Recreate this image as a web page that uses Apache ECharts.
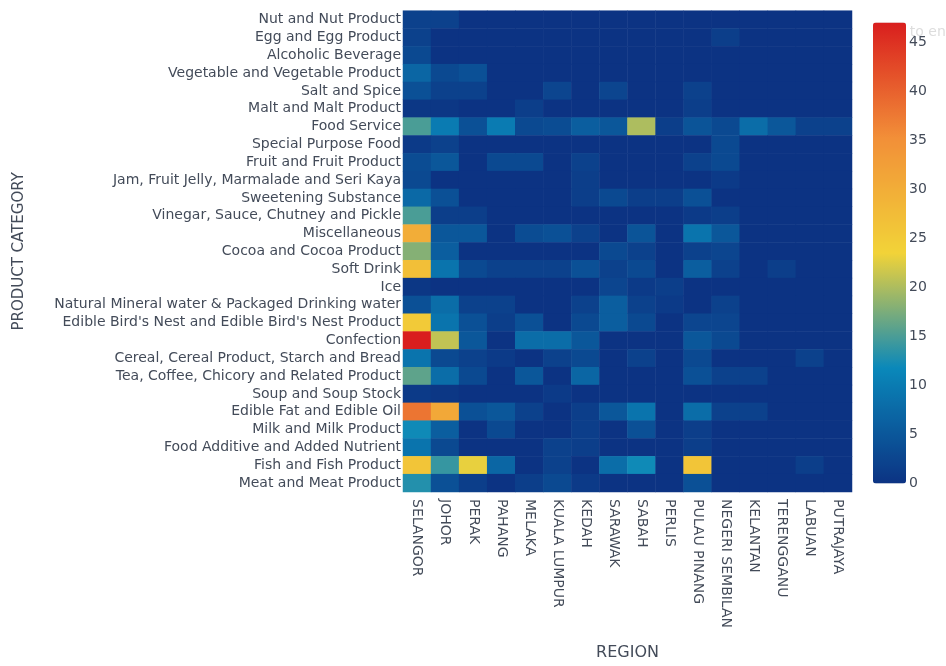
<!DOCTYPE html>
<html>
<head>
<meta charset="utf-8">
<script src="https://cdn.jsdelivr.net/npm/echarts@6/dist/echarts.min.js"></script>
<style>
  html, body { margin: 0; padding: 0; background: #fff; }
  #chart { width: 946px; height: 666px; }
</style>
</head>
<body>
<div id="chart"></div>
<script>
// Regions along the x axis
const regions = ['SELANGOR', 'JOHOR', 'PERAK', 'PAHANG', 'MELAKA', 'KUALA LUMPUR', 'KEDAH',
  'SARAWAK', 'SABAH', 'PERLIS', 'PULAU PINANG', 'NEGERI SEMBILAN', 'KELANTAN',
  'TERENGGANU', 'LABUAN', 'PUTRAJAYA'];

// Product categories, top to bottom
const categories = ['Nut and Nut Product', 'Egg and Egg Product', 'Alcoholic Beverage',
  'Vegetable and Vegetable Product', 'Salt and Spice', 'Malt and Malt Product', 'Food Service',
  'Special Purpose Food', 'Fruit and Fruit Product', 'Jam, Fruit Jelly, Marmalade and Seri Kaya',
  'Sweetening Substance', 'Vinegar, Sauce, Chutney and Pickle', 'Miscellaneous',
  'Cocoa and Cocoa Product', 'Soft Drink', 'Ice', 'Natural Mineral water & Packaged Drinking water',
  "Edible Bird's Nest and Edible Bird's Nest Product", 'Confection',
  'Cereal, Cereal Product, Starch and Bread', 'Tea, Coffee, Chicory and Related Product',
  'Soup and Soup Stock', 'Edible Fat and Edible Oil', 'Milk and Milk Product',
  'Food Additive and Added Nutrient', 'Fish and Fish Product', 'Meat and Meat Product'];

// Counts per category (rows, same order as categories), one value per region
const counts = [
  [2, 2, 0, 0, 0, 0, 0, 0, 0, 0, 0, 0, 0, 0, 0, 0],
  [2, 0, 0, 0, 0, 0, 0, 0, 0, 0, 0, 1.5, 0, 0, 0, 0],
  [3, 0, 0, 0, 0, 0, 0, 0, 0, 0, 0, 0, 0, 0, 0, 0],
  [7, 3, 4, 0, 0, 0, 0, 0, 0, 0, 0, 0, 0, 0, 0, 0],
  [4, 2, 2, 0, 0, 2.5, 0, 2.5, 0, 0, 2, 0, 0, 0, 0, 0],
  [0.5, 0.5, 0, 0, 1.5, 0, 0, 0, 0, 0, 1.5, 0, 0, 0, 0, 0],
  [15, 10, 4, 10, 3, 3.5, 6, 5, 20, 1.5, 4.5, 3, 8, 5, 2, 2],
  [1, 2, 0, 0, 0, 0, 0, 0, 0, 0, 0, 3, 0, 0, 0, 0],
  [3.5, 5, 0, 3, 3, 0, 2, 0, 0, 0, 2, 3, 0, 0, 0, 0],
  [3, 0, 0, 0, 0, 0, 1.5, 0, 0, 0, 0, 1, 0, 0, 0, 0],
  [7.5, 4, 0, 0, 0, 0, 1.5, 3, 1.5, 1.5, 4, 0, 0, 0, 0, 0],
  [15, 1.5, 1.5, 0, 0, 0, 0, 0, 0, 0, 1, 1.5, 0, 0, 0, 0],
  [30, 5, 5, 0, 3.5, 4, 2, 0, 4.5, 0, 9, 5, 0, 0, 0, 0],
  [18, 6, 0, 0, 0, 0, 0, 3, 2, 0, 2, 2.5, 0, 0, 0, 0],
  [27, 9, 3, 2, 2, 2, 4, 2, 3, 0, 6, 2, 0, 1.5, 0, 0],
  [0.5, 0, 0, 0, 0, 0, 0, 2.5, 1, 1.5, 0, 0, 0, 0, 0, 0],
  [4, 8, 2, 2, 0, 0, 2, 6, 2, 1, 0, 2, 0, 0, 0, 0],
  [25, 9, 4, 1.5, 4, 0, 3, 6, 3, 0, 2.5, 2.5, 0, 0, 0, 0],
  [47, 21, 5, 0, 8, 8, 5, 0, 0, 0, 5, 3, 0, 0, 0, 0],
  [9, 3, 2, 1, 0, 2, 3, 0, 2, 0, 3, 0, 0, 0, 2, 0],
  [16, 8, 3, 0, 5, 0, 7, 0, 0, 0, 4, 2, 2, 0, 0, 0],
  [1, 0.5, 0, 0, 0, 1, 0, 0, 0, 0, 0, 0, 0, 0, 0, 0],
  [38, 31, 4, 5, 2, 0, 1.5, 5, 9, 0, 8, 2, 2, 0, 0, 0],
  [12, 6, 0, 3, 0, 0, 1.5, 0, 4, 0, 1.5, 0, 0, 0, 0, 0],
  [9, 3, 0, 0, 0, 2, 1.5, 0, 0, 0, 1.5, 0, 0, 0, 0, 0],
  [26, 14, 23, 7, 0, 2, 0, 8, 12, 0, 26, 0, 0, 0, 1.5, 0],
  [13, 4, 1.5, 0, 1.5, 3, 1, 0, 0, 0, 4, 0, 0, 0, 0, 0]
];

// Colour scale range and tick step
const scaleMin = 0;
const scaleMax = 47;
const scaleStep = 5;

// Portland-style colour ramp
const rampColors = ['rgb(12,51,131)', 'rgb(10,136,186)', 'rgb(242,211,56)', 'rgb(242,143,56)', 'rgb(217,30,30)'];

const cells = [];
counts.forEach((row, yi) => row.forEach((v, xi) => cells.push([xi, yi, v])));

const FONT = 'DejaVu Sans';
const TXT = '#434b59';

const chart = echarts.init(document.getElementById('chart'), null, { renderer: 'canvas' });
chart.setOption({
  animation: false,
  backgroundColor: '#fff',
  textStyle: { fontFamily: FONT },
  graphic: [{
    type: 'text', z: 0, left: 872, top: 25,
    style: { text: 'Click to enter Colorscale title', fill: '#dddddd', font: '14px ' + FONT }
  }],
  grid: [
    { left: 403, top: 10.7, width: 449, height: 484.3 },
    { left: 873, top: 22.5, width: 33, height: 461 }
  ],
  xAxis: [{
    gridIndex: 0,
    type: 'category',
    data: regions,
    name: 'REGION',
    nameLocation: 'middle',
    nameGap: 153,
    nameTextStyle: { color: TXT, fontSize: 16, fontFamily: FONT },
    axisLine: { show: false },
    axisTick: { show: false },
    splitLine: { show: false },
    axisLabel: { interval: 0, rotate: -90, color: TXT, fontSize: 14, margin: 7, fontFamily: FONT }
  }, {
    gridIndex: 1, type: 'value', show: false, min: 0, max: 1
  }],
  yAxis: [{
    gridIndex: 0,
    type: 'category',
    data: categories,
    inverse: true,
    name: 'PRODUCT CATEGORY',
    nameLocation: 'middle',
    nameGap: 376,
    nameTextStyle: { color: TXT, fontSize: 15, fontFamily: FONT },
    axisLine: { show: false },
    axisTick: { show: false },
    splitLine: { show: false },
    axisLabel: { interval: 0, color: TXT, fontSize: 14, margin: 2, fontFamily: FONT }
  }, {
    gridIndex: 1,
    type: 'value',
    position: 'right',
    min: scaleMin,
    max: scaleMax,
    interval: scaleStep,
    axisLine: { show: false },
    axisTick: { show: false },
    splitLine: { show: false },
    axisLabel: { color: TXT, fontSize: 14, margin: 3, fontFamily: FONT, showMaxLabel: false }
  }],
  visualMap: {
    type: 'continuous',
    min: scaleMin,
    max: scaleMax,
    calculable: false,
    seriesIndex: 0,
    left: 873,
    top: 22.5,
    padding: 0,
    itemWidth: 33,
    itemHeight: 461,
    text: ['', ''],
    showLabel: false,
    hoverLink: false,
    inRange: { color: rampColors },
    z: 4
  },
  series: [{
    type: 'heatmap',
    xAxisIndex: 0,
    yAxisIndex: 0,
    data: cells,
    itemStyle: { borderWidth: 0 },
    emphasis: { disabled: true }
  }]
});
</script>
</body>
</html>
